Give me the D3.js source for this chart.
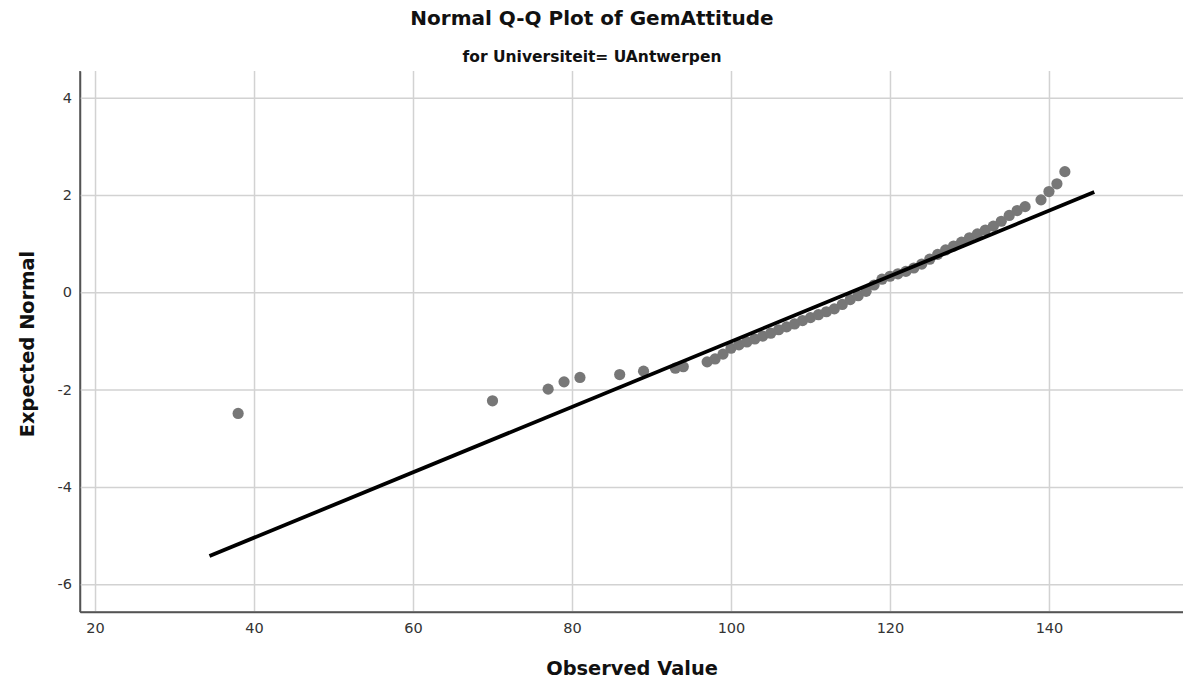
<!DOCTYPE html>
<meta charset="utf-8">
<style>
  body { margin: 0; background: #fff; }
  svg { display: block; }
  text { font-family: "DejaVu Sans", sans-serif; fill: #333; }
  .grid line { stroke: #d2d2d2; stroke-width: 1.5; }
  .grid .domain { stroke: #555; stroke-width: 1.5; }
  .title { font-weight: bold; fill: #111; }
</style>
<body>
<script src="https://d3js.org/d3.v7.min.js"></script>
<script>

var observed = [38, 70, 77, 79, 81, 86, 89, 93, 94,
  97, 98, 99, 100, 101, 102, 103, 104, 105, 106, 107, 108, 109, 110,
  111, 112, 113, 114, 115, 116, 117, 118, 119, 120, 121, 122, 123, 124,
  125, 126, 127, 128, 129, 130, 131, 132, 133, 134, 135, 136, 137,
  139, 140, 141, 142];
var expected = [-2.49, -2.23, -1.99, -1.84, -1.75, -1.69, -1.62, -1.56, -1.53,
  -1.43, -1.37, -1.27, -1.15, -1.08, -1.02, -0.96, -0.90, -0.84, -0.77, -0.71, -0.65, -0.58, -0.52,
  -0.46, -0.40, -0.34, -0.25, -0.15, -0.07, 0.02, 0.15, 0.27, 0.33, 0.38, 0.43, 0.50, 0.58,
  0.68, 0.78, 0.87, 0.95, 1.03, 1.12, 1.20, 1.28, 1.36, 1.46, 1.58, 1.68, 1.76,
  1.90, 2.07, 2.23, 2.48];

// reference line end points (observed, expected)
var lineX = [34.4, 145.7];
var lineY = [-5.42, 2.06];

var xTicks = [20, 40, 60, 80, 100, 120, 140];
var yTicks = [-6, -4, -2, 0, 2, 4];

var width = 1183, height = 681;
var plotL = 80, plotR = 1183, plotT = 71, plotB = 612;

var svg = d3.select('body').append('svg').attr('width', width).attr('height', height);

var x = d3.scaleLinear().domain([18.11, 156.86]).range([plotL, plotR]);
var y = d3.scaleLinear().domain([-6.57, 4.548]).range([plotB, plotT]);

// gridlines + labels
svg.append('g').attr('class', 'grid')
  .attr('transform', 'translate(0,' + plotB + ')')
  .call(d3.axisBottom(x).tickValues(xTicks).tickSizeInner(-(plotB - plotT)).tickSizeOuter(0).tickPadding(11))
  .call(function (g) {
    g.selectAll('text').style('font-size', '14.5px').attr('fill', '#333');
  });

svg.append('g').attr('class', 'grid')
  .attr('transform', 'translate(' + plotL + ',0)')
  .call(d3.axisLeft(y).tickValues(yTicks).tickSizeInner(-(plotR - plotL)).tickSizeOuter(0).tickPadding(8)
    .tickFormat(function (d) { return d < 0 ? '-' + Math.abs(d) : d; }))
  .call(function (g) {
    g.selectAll('text').style('font-size', '14.5px').attr('fill', '#333');
  });

// axis lines on top of the grid
svg.append('line').attr('x1', plotL).attr('x2', plotR).attr('y1', plotB).attr('y2', plotB)
  .attr('stroke', '#555').attr('stroke-width', 1.5);
svg.append('line').attr('x1', plotL).attr('x2', plotL).attr('y1', plotT).attr('y2', plotB)
  .attr('stroke', '#555').attr('stroke-width', 1.5);

// points
svg.append('g').selectAll('circle')
  .data(observed)
  .enter().append('circle')
  .attr('cx', function (d) { return x(d); })
  .attr('cy', function (d, i) { return y(expected[i]); })
  .attr('r', 5.6)
  .attr('fill', '#777');

// reference line
svg.append('line')
  .attr('x1', x(lineX[0])).attr('y1', y(lineY[0]))
  .attr('x2', x(lineX[1])).attr('y2', y(lineY[1]))
  .attr('stroke', '#000').attr('stroke-width', 3.8);

// titles
svg.append('text').attr('class', 'title')
  .attr('x', 592).attr('y', 25).attr('text-anchor', 'middle')
  .style('font-size', '20px').text('Normal Q-Q Plot of GemAttitude');

svg.append('text').attr('class', 'title')
  .attr('x', 592).attr('y', 62).attr('text-anchor', 'middle')
  .style('font-size', '15.5px').text('for Universiteit= UAntwerpen');

svg.append('text').attr('class', 'title')
  .attr('x', 632).attr('y', 675).attr('text-anchor', 'middle')
  .style('font-size', '19.4px').text('Observed Value');

svg.append('text').attr('class', 'title')
  .attr('transform', 'translate(34,344) rotate(-90)').attr('text-anchor', 'middle')
  .style('font-size', '19.4px').text('Expected Normal');

</script>
</body>
